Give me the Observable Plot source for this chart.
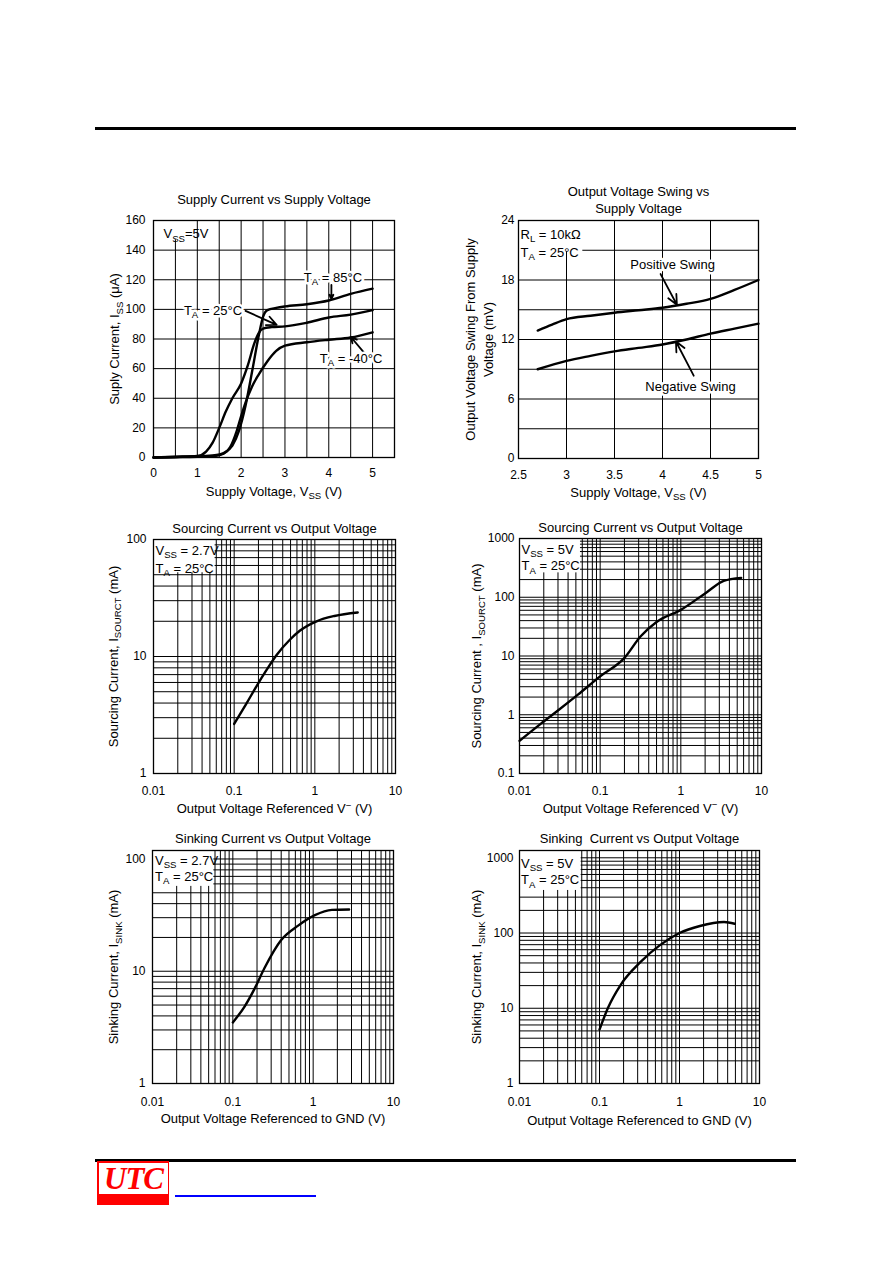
<!DOCTYPE html>
<html><head><meta charset="utf-8">
<script src="https://cdn.jsdelivr.net/npm/d3@7"></script>
<script src="https://cdn.jsdelivr.net/npm/@observablehq/plot@0.6"></script>
<style>
html,body{margin:0;padding:0;background:#fff;}
body{width:892px;height:1263px;position:relative;overflow:hidden;font-family:"Liberation Sans",Arial,sans-serif;}
.chart{position:absolute;}
.bar{position:absolute;background:#000;}
#logo{position:absolute;left:97px;top:1161px;width:72px;height:44px;background:#ff0000;}
#logo .inner{position:absolute;left:2px;top:2px;width:69px;height:31px;background:#fff;color:#ff0000;
  font-family:"Liberation Serif","Times New Roman",serif;font-style:italic;font-weight:bold;font-size:31px;line-height:31px;text-align:center;letter-spacing:-1px;}
#link{position:absolute;left:175px;top:1195px;width:141px;height:2px;background:#0000ff;}
</style></head><body>
<div class="bar" style="left:95px;top:127px;width:701px;height:3px"></div>
<div class="bar" style="left:95px;top:1159px;width:701px;height:3px"></div>
<div id="logo"><div class="inner">UTC</div></div>
<div id="link"></div>
<script>
// ---------------- DATA ----------------
// Chart 1: Supply Current vs Supply Voltage
const supplyV_85 = [0, 0.5, 1.0, 1.4, 1.6, 1.8, 1.95, 2.1, 2.25, 2.4, 2.5, 2.6, 2.8, 3.0, 3.5, 4.0, 4.5, 5.0];
const supplyI_85 = [0, 0.3, 0.8, 1.5, 3, 8, 18, 35, 58, 82, 95, 99.5, 101, 102, 103.5, 106, 110.5, 114];
const supplyV_25 = [0, 0.5, 1.0, 1.2, 1.35, 1.5, 1.65, 1.8, 2.0, 2.15, 2.3, 2.4, 2.5, 2.7, 3.0, 3.5, 4.0, 4.5, 5.0];
const supplyI_25 = [0, 0.5, 1, 4, 10, 20, 31, 40, 50, 62, 77, 84, 87, 88, 88.5, 91, 94.5, 96.5, 99.5];
const supplyV_m40 = [0, 0.5, 1.0, 1.4, 1.6, 1.75, 1.9, 2.0, 2.1, 2.25, 2.4, 2.6, 2.8, 3.0, 3.5, 4.0, 4.5, 5.0];
const supplyI_m40 = [0, 0.2, 0.5, 1, 2.5, 7, 18, 28, 37, 48, 56, 65, 72, 75.5, 77.8, 79.5, 81, 84.5];
const supplyVTicks = [0, 1, 2, 3, 4, 5];
const supplyITicks = [0, 20, 40, 60, 80, 100, 120, 140, 160];
const supplyVGrid = [0.5, 1, 1.5, 2, 2.5, 3, 3.5, 4, 4.5, 5];
const supplyIGrid = [20, 40, 60, 80, 100, 120, 140];

// Chart 2: Output Voltage Swing vs Supply Voltage
const swingV_pos = [2.7, 2.85, 3.0, 3.25, 3.5, 3.75, 4.0, 4.25, 4.5, 4.75, 5.0];
const swing_pos = [12.9, 13.5, 14.05, 14.4, 14.7, 14.95, 15.2, 15.6, 16.1, 17.0, 18.0];
const swingV_neg = [2.7, 3.0, 3.25, 3.5, 3.75, 4.0, 4.25, 4.5, 4.75, 5.0];
const swing_neg = [9.0, 9.85, 10.35, 10.8, 11.15, 11.5, 12.0, 12.6, 13.1, 13.6];
const swingVTicks = [2.5, 3, 3.5, 4, 4.5, 5];
const swingTicks = [0, 6, 12, 18, 24];
const swingVGrid = [3, 3.5, 4, 4.5];
const swingGrid = [3, 6, 9, 12, 15, 18, 21];

// Chart 3: Sourcing current, Vss = 2.7V
const src27_V = [0.1, 0.14, 0.193, 0.25, 0.336, 0.49, 0.65, 1.05, 1.75, 3.4];
const src27_I = [2.65, 3.9, 5.7, 7.6, 10.3, 13.9, 16.6, 20.0, 22.2, 23.8];
// Chart 4: Sourcing current, Vss = 5V
const src5_V = [0.01, 0.0183, 0.0297, 0.053, 0.1, 0.2, 0.316, 0.5, 1.0, 2.1, 3.4, 5.6];
const src5_I = [0.36, 0.7, 1.17, 2.2, 4.5, 9.3, 21.5, 38, 61, 122, 190, 214];
// Chart 5: Sinking current, Vss = 2.7V
const snk27_V = [0.1, 0.14, 0.186, 0.248, 0.4, 0.65, 1.05, 1.71, 2.8];
const snk27_I = [3.5, 4.85, 6.97, 10.7, 19, 25.5, 31.6, 35.2, 35.5];
// Chart 6: Sinking current, Vss = 5V
const snk5_V = [0.1, 0.127, 0.184, 0.324, 0.57, 1.0, 1.8, 3.6, 4.9];
const snk5_I = [5.2, 10, 20.5, 41, 69, 100, 124, 140, 133];

const logVTicks = [0.01, 0.1, 1, 10];
const logI2Ticks = [1, 10, 100];
const logI4Ticks = [0.1, 1, 10, 100, 1000];
const logI3Ticks = [1, 10, 100, 1000];

// ---------------- HELPERS ----------------
const FONT = '"Liberation Sans", Arial, Helvetica, sans-serif';
const FS = 13;
const pts = (xs, ys) => xs.map((x, i) => ({x, y: ys[i]}));
function decadeGrid(lo, hi) {
  const out = [];
  for (let e = Math.floor(Math.log10(lo)); e <= Math.ceil(Math.log10(hi)); e++)
    for (let m = 1; m <= 9; m++) {
      const v = +(m * Math.pow(10, e)).toPrecision(3);
      if (v > lo * 1.0001 && v < hi * 0.9999) out.push(v);
    }
  return out;
}
const ns = "http://www.w3.org/2000/svg";
function richText(svg) {
  const leaves = [...svg.querySelectorAll("text, tspan")].filter(n => n.children.length === 0 && /[_^]\{/.test(n.textContent));
  for (const n of leaves) {
    const s = n.textContent;
    n.textContent = "";
    const re = /([_^])\{([^}]*)\}/g;
    let last = 0, m, shift = 0;
    const add = (t, mode) => {
      const ts = document.createElementNS(ns, "tspan");
      ts.textContent = t;
      const target = mode === "_" ? 3.2 : mode === "^" ? -4.5 : 0;
      const d = target - shift;
      if (d) ts.setAttribute("dy", d);
      shift = target;
      if (mode) ts.setAttribute("font-size", "74%");
      n.appendChild(ts);
    };
    while ((m = re.exec(s))) {
      if (m.index > last) add(s.slice(last, m.index), null);
      add(m[2], m[1]);
      last = re.lastIndex;
    }
    if (last < s.length) add(s.slice(last), null);
  }
}

function makeChart(o) {
  const marks = [
    Plot.ruleX(o.gridX, {stroke: "#000", strokeWidth: 1}),
    Plot.ruleY(o.gridY, {stroke: "#000", strokeWidth: 1}),
    Plot.rect([o.box], {x1: "x1", x2: "x2", y1: "y1", y2: "y2", fill: "white"}),
    Plot.frame({stroke: "#000", strokeWidth: 1.3})
  ];
  for (const s of o.series)
    marks.push(Plot.line(s, {x: "x", y: "y", stroke: "#000", strokeWidth: 2.4, curve: "monotone-x"}));
  if (o.arrows)
    marks.push(Plot.arrow(o.arrows, {x1: "x1", y1: "y1", x2: "x2", y2: "y2", stroke: "#000", strokeWidth: 1.8, headLength: 9, headAngle: 50}));
  if (o.notes)
    marks.push(Plot.text(o.notes, {x: "x", y: "y", text: "t", textAnchor: "start", lineAnchor: "middle", fill: "#000", stroke: "white", strokeWidth: 5, fontSize: FS, fontFamily: FONT}));
  marks.push(Plot.text([o.corner], {text: d => d, frameAnchor: "top-left", textAnchor: "start", lineAnchor: "top", dx: o.cornerDx, dy: o.cornerDy, lineHeight: o.cornerLH, fontSize: FS, fontFamily: FONT, fill: "#000"}));
  marks.push(Plot.text([o.title], {text: d => d, frameAnchor: "top", textAnchor: "middle", lineAnchor: "middle", dy: o.titleDy, lineHeight: 1.32, fontSize: FS, fontFamily: FONT, fill: "#000"}));
  marks.push(Plot.text([o.xLabel], {text: d => d, frameAnchor: "bottom", textAnchor: "middle", lineAnchor: "middle", dy: o.xLabelDy, fontSize: FS, fontFamily: FONT, fill: "#000"}));
  marks.push(Plot.text([o.yLabel], {text: d => d, frameAnchor: "left", textAnchor: "middle", lineAnchor: "middle", dx: o.yLabelDx, rotate: -90, lineHeight: 1.4, fontSize: FS, fontFamily: FONT, fill: "#000"}));

  const svg = Plot.plot({
    width: o.width, height: o.height,
    marginLeft: o.m[0], marginRight: o.m[1], marginTop: o.m[2], marginBottom: o.m[3],
    style: {fontFamily: FONT, fontSize: "12px", background: "transparent", color: "#000", overflow: "visible"},
    x: Object.assign({label: null, tickSize: 0, tickFormat: d => String(d)}, o.x),
    y: Object.assign({label: null, tickSize: 0, tickFormat: d => String(d)}, o.y),
    marks
  });
  richText(svg);
  const div = document.createElement("div");
  div.className = "chart";
  div.style.left = o.left + "px";
  div.style.top = o.top + "px";
  div.appendChild(svg);
  document.body.appendChild(div);
}

// ---------------- CHART 1 ----------------
makeChart({
  left: 90, top: 180, width: 320, height: 325, m: [63, 16, 40, 48],
  x: {domain: [0, 5.5], ticks: supplyVTicks, tickPadding: 11},
  y: {domain: [0, 160], ticks: supplyITicks, tickPadding: 8},
  gridX: supplyVGrid, gridY: supplyIGrid,
  box: {x1: 0, x2: 0.97, y1: 147, y2: 160},
  series: [pts(supplyV_85, supplyI_85), pts(supplyV_25, supplyI_25), pts(supplyV_m40, supplyI_m40)],
  notes: [
    {x: 3.43, y: 121.5, t: "T_{A} = 85°C"},
    {x: 0.694, y: 99, t: "T_{A} = 25°C"},
    {x: 3.794, y: 66.6, t: "T_{A} = -40°C"}
  ],
  arrows: [
    {x1: 4.06, y1: 116.5, x2: 4.06, y2: 107},
    {x1: 2.1, y1: 99, x2: 2.81, y2: 89.5},
    {x1: 4.8, y1: 71, x2: 4.5, y2: 81.5}
  ],
  corner: "V_{SS}=5V", cornerDx: 10, cornerDy: 5, cornerLH: 1.4,
  title: "Supply Current vs Supply Voltage", titleDy: -22,
  xLabel: "Supply Voltage, V_{SS} (V)", xLabelDy: 34,
  yLabel: "Suply Current, I_{SS} (μA)", yLabelDx: -40
});

// ---------------- CHART 2 ----------------
makeChart({
  left: 455, top: 175, width: 320, height: 330, m: [63, 17, 45, 47],
  x: {domain: [2.5, 5], ticks: swingVTicks, tickPadding: 12},
  y: {domain: [0, 24], ticks: swingTicks, tickPadding: 4},
  gridX: swingVGrid, gridY: swingGrid,
  box: {x1: 2.5, x2: 3.17, y1: 20.85, y2: 24},
  series: [pts(swingV_pos, swing_pos), pts(swingV_neg, swing_neg)],
  notes: [
    {x: 3.665, y: 19.58, t: "Positive Swing"},
    {x: 3.821, y: 7.26, t: "Negative Swing"}
  ],
  arrows: [
    {x1: 3.98, y1: 18.6, x2: 4.15, y2: 15.5},
    {x1: 4.325, y1: 8.35, x2: 4.14, y2: 11.8}
  ],
  corner: "R_{L} = 10kΩ\nT_{A} = 25°C", cornerDx: 2, cornerDy: 5, cornerLH: 1.42,
  title: "Output Voltage Swing vs\nSupply Voltage", titleDy: -21.5,
  xLabel: "Supply Voltage, V_{SS} (V)", xLabelDy: 34,
  yLabel: "Output Voltage Swing From Supply\nVoltage (mV)", yLabelDx: -40
});

// ---------------- CHART 3 ----------------
makeChart({
  left: 90, top: 505, width: 320, height: 320, m: [63, 15, 34, 52],
  x: {type: "log", domain: [0.01, 10], ticks: logVTicks, tickPadding: 13},
  y: {type: "log", domain: [1, 100], ticks: logI2Ticks, tickPadding: 7},
  gridX: decadeGrid(0.01, 10), gridY: decadeGrid(1, 100),
  box: {x1: 0.01, x2: 0.058, y1: 52, y2: 100},
  series: [pts(src27_V, src27_I)],
  corner: "V_{SS} = 2.7V\nT_{A} = 25°C", cornerDx: 2, cornerDy: 2, cornerLH: 1.42,
  title: "Sourcing Current vs Output Voltage", titleDy: -12.5,
  xLabel: "Output Voltage Referenced V^{−} (V)", xLabelDy: 35.5,
  yLabel: "Sourcing Current, I_{SOURCT} (mA)", yLabelDx: -41.5
});

// ---------------- CHART 4 ----------------
makeChart({
  left: 455, top: 505, width: 320, height: 320, m: [64, 14, 33, 52],
  x: {type: "log", domain: [0.01, 10], ticks: logVTicks, tickPadding: 13},
  y: {type: "log", domain: [0.1, 1000], ticks: logI4Ticks, tickPadding: 5},
  gridX: decadeGrid(0.01, 10), gridY: decadeGrid(0.1, 1000),
  box: {x1: 0.01, x2: 0.057, y1: 260, y2: 1000},
  series: [pts(src5_V, src5_I)],
  corner: "V_{SS} = 5V\nT_{A} = 25°C", cornerDx: 2, cornerDy: 3, cornerLH: 1.3,
  title: "Sourcing Current vs Output Voltage", titleDy: -12,
  xLabel: "Output Voltage Referenced V^{−} (V)", xLabelDy: 35,
  yLabel: "Sourcing Current , I_{SOURCT} (mA)", yLabelDx: -44
});

// ---------------- CHART 5 ----------------
makeChart({
  left: 90, top: 815, width: 320, height: 320, m: [62, 17, 35, 52],
  x: {type: "log", domain: [0.01, 10], ticks: logVTicks, tickPadding: 14},
  y: {type: "log", domain: [1, 119], ticks: logI2Ticks, tickPadding: 7},
  gridX: decadeGrid(0.01, 10), gridY: decadeGrid(1, 119),
  box: {x1: 0.01, x2: 0.058, y1: 57, y2: 119},
  series: [pts(snk27_V, snk27_I)],
  corner: "V_{SS} = 2.7V\nT_{A} = 25°C", cornerDx: 2.5, cornerDy: 3, cornerLH: 1.25,
  title: "Sinking Current vs Output Voltage", titleDy: -13.3,
  xLabel: "Output Voltage Referenced to GND (V)", xLabelDy: 35.5,
  yLabel: "Sinking Current, I_{SINK} (mA)", yLabelDx: -40
});

// ---------------- CHART 6 ----------------
makeChart({
  left: 455, top: 815, width: 320, height: 320, m: [64, 16, 35, 52],
  x: {type: "log", domain: [0.01, 10], ticks: logVTicks, tickPadding: 14},
  y: {type: "log", domain: [1, 1250], ticks: logI3Ticks, tickPadding: 6},
  gridX: decadeGrid(0.01, 10), gridY: decadeGrid(1, 1250),
  box: {x1: 0.01, x2: 0.059, y1: 368, y2: 1250},
  series: [pts(snk5_V, snk5_I)],
  corner: "V_{SS} = 5V\nT_{A} = 25°C", cornerDx: 1.5, cornerDy: 5, cornerLH: 1.3,
  title: "Sinking  Current vs Output Voltage", titleDy: -13.3,
  xLabel: "Output Voltage Referenced to GND (V)", xLabelDy: 37,
  yLabel: "Sinking Current, I_{SINK} (mA)", yLabelDx: -44
});
</script>
</body></html>
